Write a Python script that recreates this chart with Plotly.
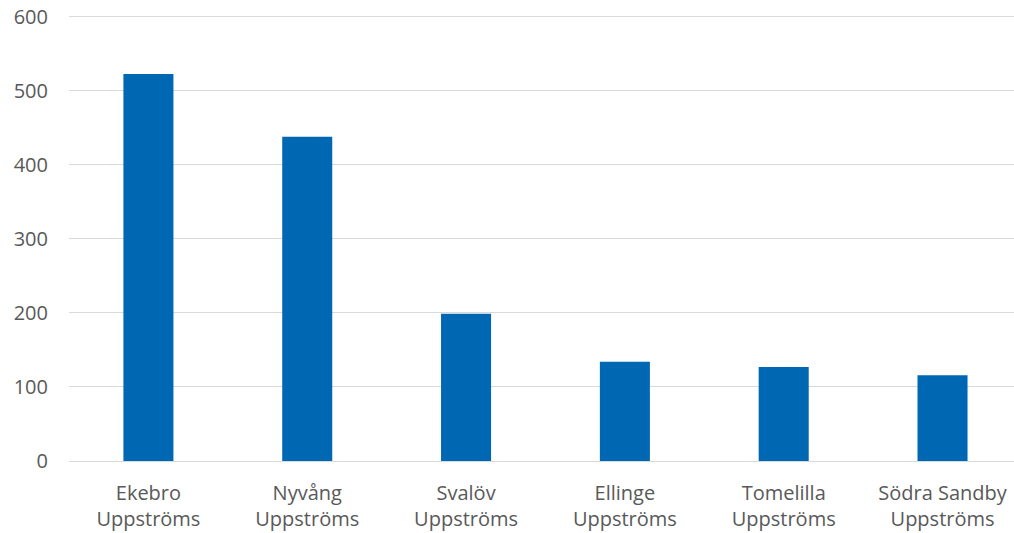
import plotly.graph_objects as go

categories = ["Ekebro<br>Uppströms", "Nyvång<br>Uppströms", "Svalöv<br>Uppströms",
              "Ellinge<br>Uppströms", "Tomelilla<br>Uppströms", "Södra Sandby<br>Uppströms"]
values = [523, 438, 199, 134, 127, 116]
y_ticks = [0, 100, 200, 300, 400, 500, 600]

fig = go.Figure(go.Bar(x=list(range(len(categories))), y=values, marker_color="#0068B2",
                       marker_line_width=0, width=0.315))

font = dict(family="Open Sans, Liberation Sans, sans-serif", size=20, color="#595959")
fig.update_layout(
    width=1014, height=533,
    margin=dict(l=69, r=0, t=14, b=72),
    paper_bgcolor="white", plot_bgcolor="white",
    font=font, showlegend=False,
    xaxis=dict(tickmode="array", tickvals=list(range(len(categories))), ticktext=categories,
               range=[-0.5, 5.45], showgrid=False, zeroline=False, showline=False,
               ticks="", ticklabelstandoff=18, automargin=False),
    yaxis=dict(range=[0, 604], tickvals=y_ticks, showgrid=True, gridcolor="#D9D9D9",
               gridwidth=1, zeroline=True, zerolinecolor="#D9D9D9", zerolinewidth=1,
               showline=False, ticks="", ticklabelstandoff=20, ticklabeloverflow="allow",
               automargin=False),
)
fig.write_html("out.html", config={"displayModeBar": False},
               post_script="document.body.style.margin='0';")
